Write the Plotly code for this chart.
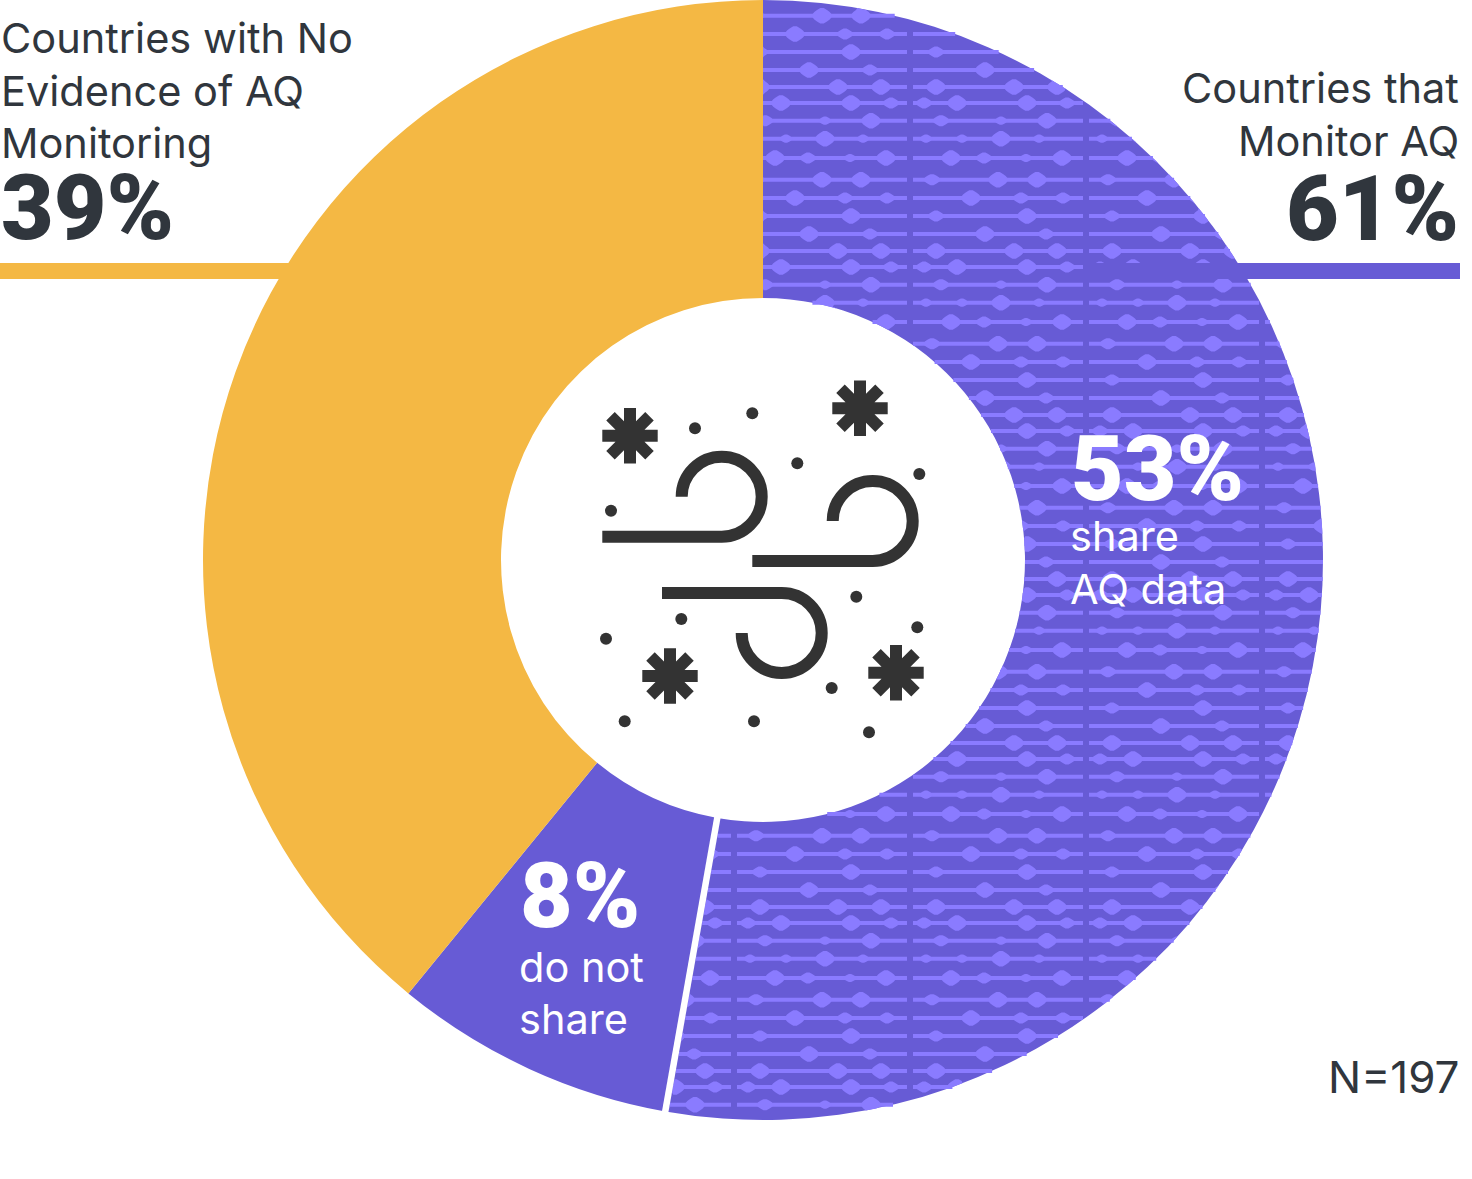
import math
import plotly.graph_objects as go

# Data
LABELS = ["Share AQ data", "Do not share", "No evidence of AQ monitoring"]
VALUES = [104, 16, 77]  # of N=197
COLORS = ["#675BD5", "#675BD5", "#F4B844"]
TEXT_DARK = "#30363D"
BEAD = "#8A7BFF"
ICON = "#333333"

W, H = 1472, 1179
CX, CY, R, RI = 763.0, 560.0, 560.0, 262.0

# decorative texture tile of the patterned slice (offset, size class) per row
TILE_W, TILE_H, TILE_X0, TILE_Y0 = 176.0, 164.0, 734.0, 612.7
ROW_DY = [0, 18, 37.3, 59, 77.3, 95.3, 113.3, 130.3, 146.3]
ROW_BEADS = [
    [(31, "m"), (91, "s"), (137, "L")],
    [(16, "s"), (52, "s"), (91, "L"), (129, "s")],
    [(41, "L"), (74, "m"), (116, "s"), (152, "L")],
    [(22, "m"), (88, "L"), (127, "L")],
    [(61, "L"), (111, "m"), (153, "m")],
    [(26, "m"), (117, "L")],
    [(75, "L"), (136, "m")],
    [(26, "L"), (104, "L"), (147, "L")],
    [(14, "m"), (47, "L"), (117, "L"), (157, "m")],
]
BEAD_SIZE = {"L": (10.0, 8.5), "m": (8.5, 6.0), "s": (6.5, 4.5)}

# icon
DOTS_X = [752.3, 695, 797.3, 919.3, 611, 856.3, 917.3, 681.3, 606, 831.7, 624.7, 754, 869]
DOTS_Y = [413.3, 428.3, 463.3, 474, 510.7, 596.7, 627.3, 619, 638.7, 688, 721.3, 721.3, 732.3]
STARS = [(630, 435.7), (860, 408.3), (670, 676), (896, 672.7)]
WINDS = [(602.3, 721.7, 496.7, 1), (752.3, 872.7, 521, 1), (662, 781.7, 633, -1)]

boundary = VALUES[0] / sum(VALUES) * 2 * math.pi
tan_b = math.tan(boundary - math.pi)


def intervals(y):
    dy = y - CY
    if abs(dy) >= R:
        return []
    half = math.sqrt(R * R - dy * dy)
    xmin = CX if dy <= 0 else CX - dy * tan_b + 3.5
    xmax = CX + half
    if abs(dy) < RI:
        inner = math.sqrt(RI * RI - dy * dy)
        xmin = max(xmin, CX + inner)
    return [(xmin, xmax)] if xmax > xmin else []


def clamp(x, y):
    best = None
    for a, b in intervals(y):
        c = min(max(x, a), b)
        if best is None or abs(c - x) < abs(best - x):
            best = c
    return best


def bead_path(x, y, w, h):
    n = 18
    pts = []
    for i in range(n):
        t = 2 * math.pi * i / n
        s = math.sin(t)
        c = math.cos(t)
        px = x + w * c
        py = y + h * s * (1 - 0.3 * abs(c)) ** 1.5
        pts.append((px, py))
    out = []
    for px, py in pts:
        q = clamp(px, py)
        if q is None:
            q = clamp(px, y)
            if q is None:
                return ""
            py = y
        out.append(f"{q:.1f},{py:.1f}")
    return "M" + "L".join(out) + "Z"


lines, beads = [], []
for i in range(-2, 5):
    sx = TILE_X0 + i * TILE_W
    for j in range(-5, 4):
        sy = TILE_Y0 + j * TILE_H
        for dy, row in zip(ROW_DY, ROW_BEADS):
            y = sy + dy
            for a, b in intervals(y):
                l = max(a, sx + 3)
                r = min(b, sx + TILE_W - 3)
                if r > l:
                    lines.append(f"M{l:.1f},{y:.1f}L{r:.1f},{y:.1f}")
            for off, size in row:
                w, h = BEAD_SIZE[size]
                x = sx + off
                q = clamp(x, y)
                if q is not None and abs(q - x) < w:
                    beads.append(bead_path(x, y, w, h))

shapes = [
    dict(type="path", path="".join(lines), line=dict(color=BEAD, width=4.0), fillcolor="rgba(0,0,0,0)"),
    dict(type="path", path="".join(beads), line=dict(width=0), fillcolor=BEAD),
]

# slice gap
sb, cb = math.sin(boundary), math.cos(boundary)
shapes.append(dict(type="line", x0=CX + sb * (RI - 4), y0=CY - cb * (RI - 4), x1=CX + sb * (R + 4), y1=CY - cb * (R + 4),
                   line=dict(color="white", width=6.5)))

# callout bars
shapes.append(dict(type="rect", x0=1086, x1=1460, y0=263, y1=279, line=dict(width=0), fillcolor=COLORS[0]))
shapes.append(dict(type="rect", x0=0, x1=300, y0=263, y1=279, line=dict(width=0), fillcolor=COLORS[2]))

# icon shapes
star = []
for sx, sy in STARS:
    a, d = 27.7, 19.5
    star.append(f"M{sx-a},{sy}L{sx+a},{sy}M{sx},{sy-a}L{sx},{sy+a}"
                f"M{sx-d},{sy-d}L{sx+d},{sy+d}M{sx-d},{sy+d}L{sx+d},{sy-d}")
shapes.append(dict(type="path", path="".join(star), line=dict(color=ICON, width=12), fillcolor="rgba(0,0,0,0)"))

wind = []
rr = 40.0
k = 0.5523 * rr
for x0, x1, yc, sgn in WINDS:
    s = sgn
    yl = yc + s * rr
    wind.append(
        f"M{x0},{yl}L{x1},{yl}"
        f"C{x1+k},{yl},{x1+rr},{yc+s*k},{x1+rr},{yc}"
        f"C{x1+rr},{yc-s*k},{x1+k},{yc-s*rr},{x1},{yc-s*rr}"
        f"C{x1-k},{yc-s*rr},{x1-rr},{yc-s*k},{x1-rr},{yc}"
    )
shapes.append(dict(type="path", path="".join(wind), line=dict(color=ICON, width=12), fillcolor="rgba(0,0,0,0)"))

BODY = "Inter"
BIG = "Roboto"
BODY_SIZE = 41.5
BIG_SIZE = 91


def txt(x, base, s, size, color=TEXT_DARK, anchor="left", family=BODY, weight=400):
    return dict(x=x, y=base - 0.345 * size, xref="x", yref="y", text=s, showarrow=False, xanchor=anchor, yanchor="middle",
                font=dict(family=family, size=size, color=color, weight=weight), borderpad=0, borderwidth=0)


ann = [
    txt(1, 52, "Countries with No", BODY_SIZE),
    txt(1, 105, "Evidence of AQ", BODY_SIZE),
    txt(1, 157, "Monitoring", BODY_SIZE),
    txt(1, 239, "39%", BIG_SIZE, family=BIG, weight=900),
    txt(1459, 102, "Countries that", BODY_SIZE, anchor="right"),
    txt(1459, 155, "Monitor AQ", BODY_SIZE, anchor="right"),
    txt(1459, 240, "61%", BIG_SIZE, anchor="right", family=BIG, weight=900),
    txt(1071, 500, "53%", BIG_SIZE, color="white", family=BIG, weight=900),
    txt(1070, 550, "share", BODY_SIZE, color="white"),
    txt(1070, 603, "AQ data", BODY_SIZE, color="white"),
    txt(520, 927, "8%", BIG_SIZE, color="white", family=BIG, weight=900),
    txt(519, 981, "do not", BODY_SIZE, color="white"),
    txt(519, 1033, "share", BODY_SIZE, color="white"),
    txt(1459, 1092, "N=197", 44, anchor="right"),
]

fig = go.Figure()
fig.add_trace(go.Scatter(x=DOTS_X, y=DOTS_Y, mode="markers", marker=dict(color=ICON, size=12), hoverinfo="skip", showlegend=False))
fig.add_trace(go.Pie(
    labels=LABELS, values=VALUES, sort=False, direction="clockwise", rotation=0, hole=RI / R,
    marker=dict(colors=COLORS, line=dict(width=0)), textinfo="none", hoverinfo="label+percent", showlegend=False,
    domain=dict(x=[(CX - R) / W, (CX + R) / W], y=[(H - (CY + R)) / H, (H - (CY - R)) / H]),
))
fig.update_layout(
    width=W, height=H, margin=dict(l=0, r=0, t=0, b=0), paper_bgcolor="white", plot_bgcolor="rgba(0,0,0,0)",
    xaxis=dict(range=[0, W], visible=False, fixedrange=True, domain=[0, 1]),
    yaxis=dict(range=[H, 0], visible=False, fixedrange=True, domain=[0, 1]),
    shapes=shapes, annotations=ann, showlegend=False,
)
fig.write_html("out.html", config=dict(displayModeBar=False),
               post_script="document.body.style.margin='0';document.body.style.overflow='hidden';")
